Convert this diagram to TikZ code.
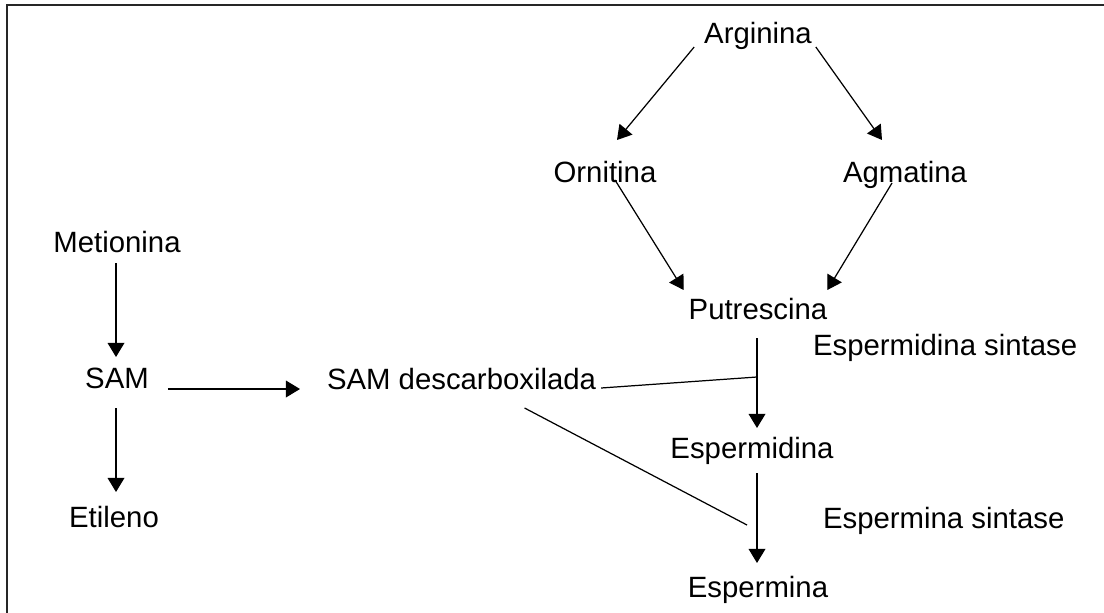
\documentclass[tikz,border=0pt]{standalone}
\usepackage{fontspec}
\setmainfont{Liberation Sans}
\usetikzlibrary{arrows.meta,calc}
\begin{document}
\begin{tikzpicture}[x=0.02cm,y=-0.02cm,
		>={Triangle[length=8pt,width=9.5pt]},
		every node/.style={inner sep=0pt,outer sep=0pt,font=\fontsize{16.7}{20}\selectfont},
		mynode/.style={anchor=base},
		mylabel/.style={anchor=base west},
		myarrow/.style={->,line width=0.7pt},
		myline/.style={line width=0.7pt}]
		
		\useasboundingbox (0,0) rectangle (1104,612);
		\draw[line width=1.1pt,black!85] (7,640) -- (7,5) -- (1130,5);
		
		\node[mynode] (arg) at (758,43) {Arginina};
		\node[mynode] (orn) at (605,182) {Ornitina};
		\node[mynode] (agm) at (905,182) {Agmatina};
		\node[mynode] (put) at (758,319) {Putrescina};
		\node[mynode] (espd) at (752,458) {Espermidina};
		\node[mynode] (espm) at (758,597) {Espermina};
		\node[mylabel] (spdsint) at (813,355) {Espermidina sintase};
		\node[mylabel] (spmsint) at (823,528) {Espermina sintase};
		\node[mynode] (met) at (117,252) {Metionina};
		\node[mynode] (sam) at (117,388) {SAM};
		\node[mynode] (eti) at (114,527) {Etileno};
		\node[mylabel] (samdc) at (327,389) {SAM descarboxilada};
		
		\coordinate (j1) at ($(put.base)+(-1,58)$);
		\coordinate (j2) at ($(espm.base)+(-11,-72)$);
		
		\draw[myarrow] ($(arg.base west)+(-10,4)$) -- ($(orn.base)+(12,-42)$);
		\draw[myarrow] ($(arg.base east)+(4,4)$) -- ($(agm.base)+(-23,-42)$);
		\draw[myarrow] ($(orn.base)+(10,-2)$) -- ($(put.base west)+(-5,-29)$);
		\draw[myarrow] ($(agm.base)+(-13,1)$) -- ($(put.base east)+(0,-29)$);
		\draw[myarrow] ($(put.base)+(-1,19)$) -- ($(put.base |- espd.base)+(-1,-30)$);
		\draw[myarrow] ($(espd.base)+(5,15)$) -- ($(espm.base)+(-1,-34)$);
		\draw[myarrow] ($(met.base)+(-1,11)$) -- ($(sam.base)+(-1,-31)$);
		\draw[myarrow] ($(sam.base east)+(19,1)$) -- ($(samdc.base west)+(-27,0)$);
		\draw[myarrow] ($(sam.base)+(-1,20)$) -- ($(eti.base)+(2,-35)$);
		\draw[myline] ($(samdc.base east)+(5,-1)$) -- (j1);
		\draw[myline] ($(samdc.base)+(63,19)$) -- (j2);
		\end{tikzpicture}
\end{document}
